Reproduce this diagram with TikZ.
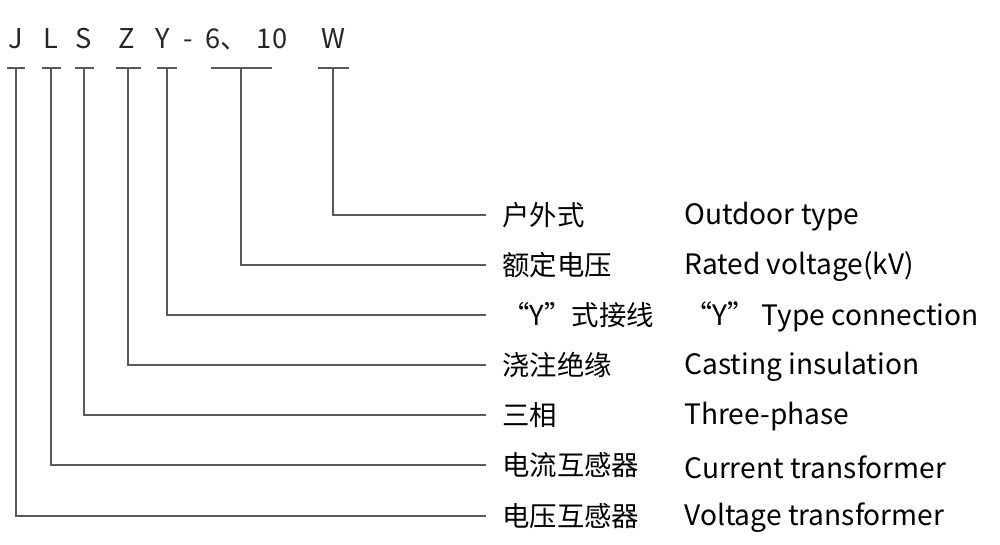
\documentclass[tikz,border=0pt]{standalone}
\usepackage{fontspec}
\setmainfont{Noto Sans CJK SC}
\usetikzlibrary{positioning}

\begin{document}
\begin{tikzpicture}[
    x=0.02cm,
    y=-0.02cm,
    code/.style={
        anchor=base,
        inner sep=0pt,
        font=\fontsize{15.5}{18}\selectfont,
        text=black!85
    },
    zh/.style={
        anchor=west,
        inner xsep=0.32cm,
        inner ysep=0pt,
        font=\fontsize{15.6}{18}\selectfont
    },
    en/.style={
        anchor=west,
        inner sep=0pt,
        font=\fontsize{16}{19}\selectfont
    },
    lead/.style={
        draw=black!65,
        line width=0.75pt
    }
]

\useasboundingbox (0,0) rectangle (1000,544);

% ============================================================
% Model code along the top
% ============================================================

\foreach \n/\t/\x in {J/J/16,L/L/51,S/S/84,Z/Z/127,Y/Y/163,D/-/188,six/6、/227,ten/10/272,W/W/333} {
    \node[code] (k\n) at (\x,49) {\t};
}

% ============================================================
% Brackets under the code, leaders to the meanings
% ============================================================

\foreach \i/\x/\w/\y/\cn/\en in {
    1/333/15.5/215/户外式/Outdoor type,
    2/241/30.5/265/额定电压/Rated voltage(kV),
    3/167/10/315/“Y”式接线/“Y” Type connection,
    4/128/12.5/365/浇注绝缘/Casting insulation,
    5/84/9.5/415/三相/Three-phase,
    6/51/9.5/465/电流互感器/Current transformer,
    7/16/9/516/电压互感器/Voltage transformer} {
    \coordinate (bl\i) at (\x-\w,68);
    \coordinate (br\i) at (\x+\w,68);
    \coordinate (bm\i) at (\x,68);

    \node[zh] (zh\i) at (486,\y) {\cn};
    \node[en] (en\i) at (684,\y+2) {\en};

    \draw[lead] (bl\i) -- (br\i);
    \draw[lead] (bm\i) |- (zh\i.west);
}
\end{tikzpicture}
\end{document}
